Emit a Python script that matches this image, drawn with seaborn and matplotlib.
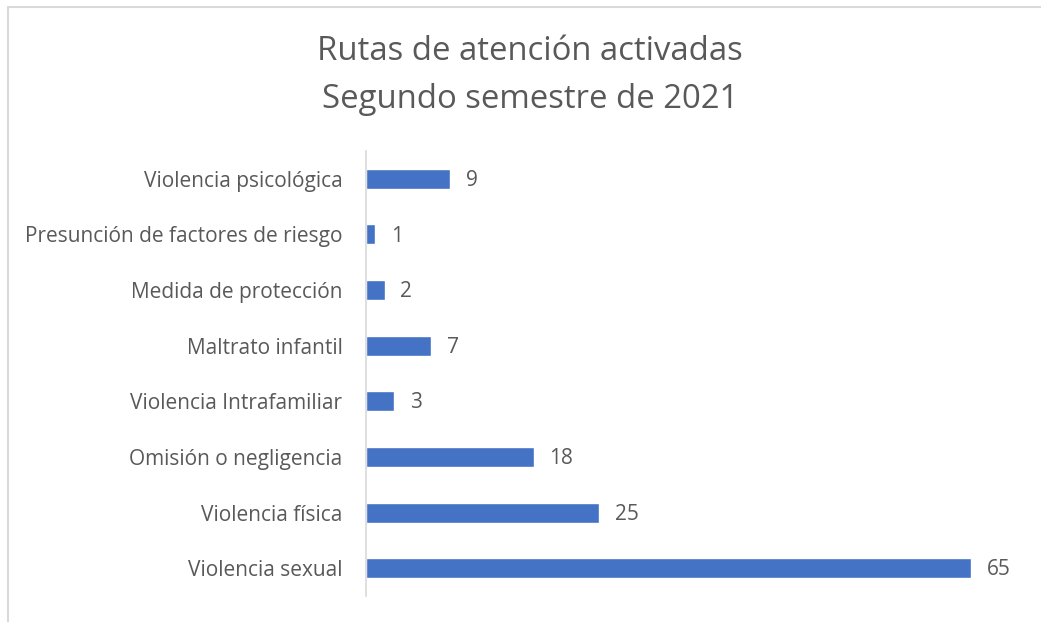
import matplotlib
matplotlib.use("Agg")
import matplotlib.pyplot as plt
import pandas as pd
import seaborn as sns

categorias = ["Violencia psicológica", "Presunción de factores de riesgo",
              "Medida de protección", "Maltrato infantil",
              "Violencia Intrafamiliar", "Omisión o negligencia",
              "Violencia física", "Violencia sexual"]
valores = [9, 1, 2, 7, 3, 18, 25, 65]

df = pd.DataFrame({"categoria": categorias, "valor": valores})

sns.set_style("white")
plt.rcParams['font.family'] = ['Open Sans', 'DejaVu Sans']
gris = "#595959"

fig = plt.figure(figsize=(10.41, 6.22), dpi=100)
ax = fig.add_axes([366/1041, 1 - 596/622, 652/1041, 445/622])

sns.barplot(data=df, x="valor", y="categoria", orient="h", color="#4472C4",
            width=0.36, saturation=1, ax=ax)

for i, v in enumerate(valores):
    ax.text(v + 1.7, i + 0.03, str(v), va="center", ha="left", fontsize=15,
            color=gris)

ax.set_xlim(0, 70)
ax.set_xlabel("")
ax.set_ylabel("")
ax.set_xticks([])
ax.tick_params(axis="y", length=0, pad=17, labelsize=15, labelcolor=gris)
for s in ["top", "right", "bottom"]:
    ax.spines[s].set_visible(False)
ax.spines["left"].set_color("#d9d9d9")
ax.spines["left"].set_linewidth(1.2)

fig.text(530/1041, 1 - 52/622, "Rutas de atención activadas", ha="center",
         va="center", fontsize=23.7, color=gris)
fig.text(530/1041, 1 - 99/622, "Segundo semestre de 2021", ha="center",
         va="center", fontsize=23.7, color=gris)

# marco del gráfico
fig.add_artist(plt.Rectangle((7.5/1041, -0.1), 1.2, 1 - 7/622 + 0.1,
                             transform=fig.transFigure, fill=False,
                             edgecolor="#d9d9d9", linewidth=1.5))

fig.savefig("out.png", dpi=100)
